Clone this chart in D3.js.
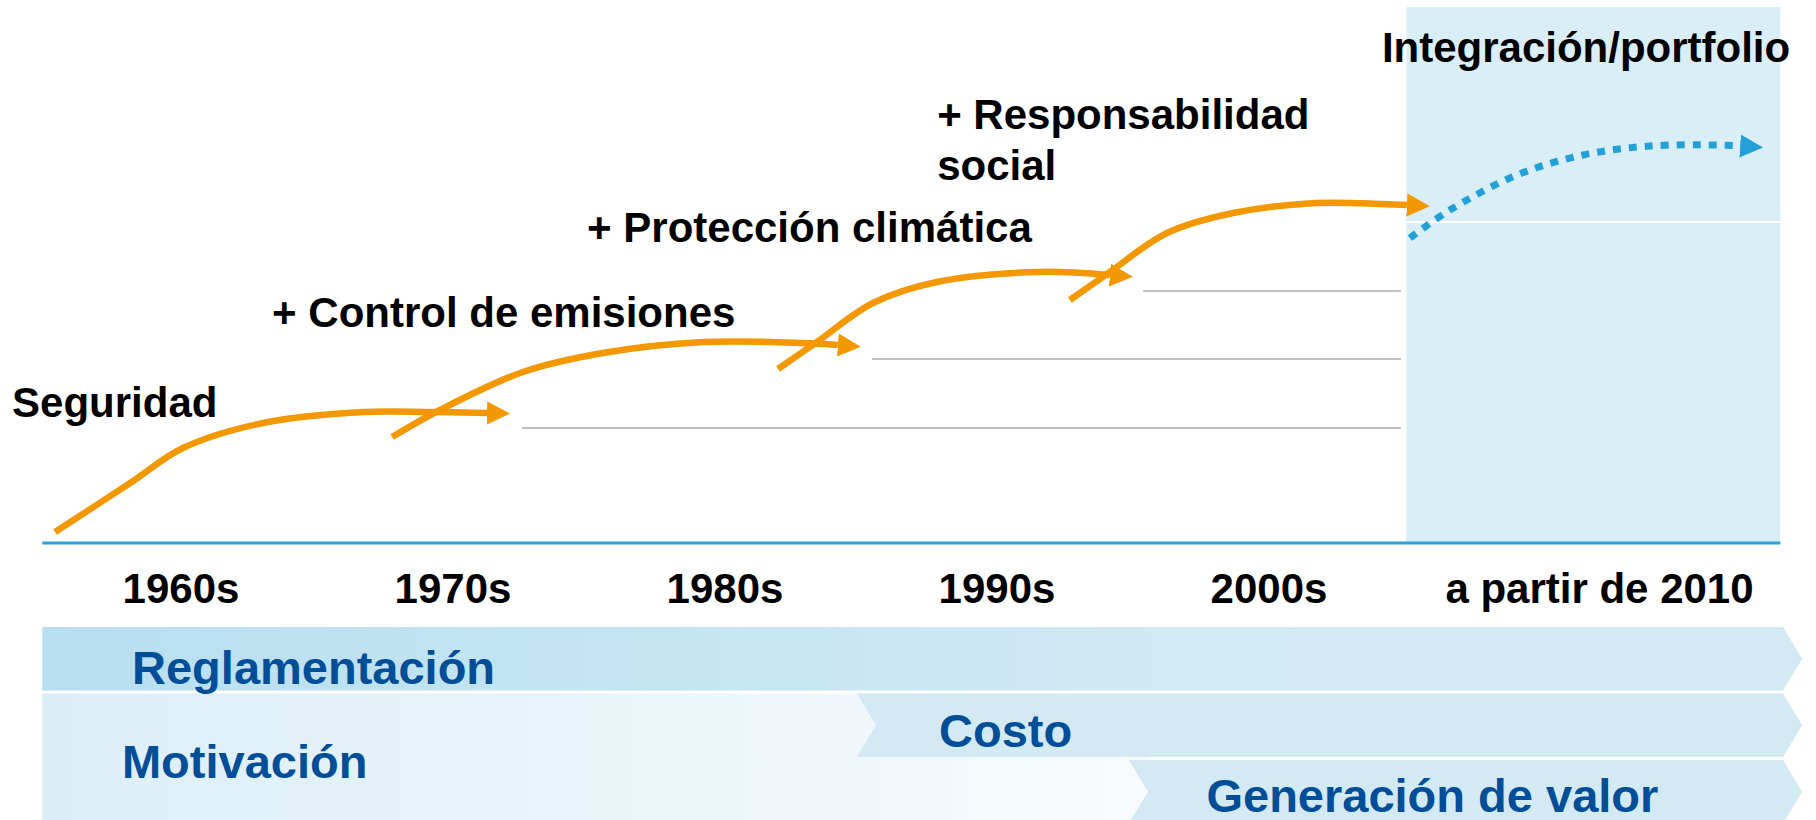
<!DOCTYPE html>
<html>
<head>
<meta charset="utf-8">
<script src="https://d3js.org/d3.v7.min.js"></script>
<style>
  body { margin: 0; background: #fff; }
  svg { display: block; font-family: "Liberation Sans", Arial, sans-serif; font-weight: bold; }
</style>
</head>
<body>
<div id="my_dataviz"></div>
<script>

// size of the picture
var width = 1816,
    height = 820

// periods along the time axis
var periodLabels = ["1960s", "1970s", "1980s", "1990s", "2000s", "a partir de 2010"]
var periodStarts = [1960, 1970, 1980, 1990, 2000, 2010]
var periodEnds   = [1970, 1980, 1990, 2000, 2010, 2024.3]

// topics reached along the way
var stepLabels = ["Seguridad", "+ Control de emisiones", "+ Protección climática", "+ Responsabilidad\nsocial", "Integración/portfolio"]

// the S-curves (x = year, y = level). last one is the outlook after 2010
var curve1Years  = [1960.37, 1963.13, 1965.07, 1968.01, 1971.69, 1974.15, 1976.25]
var curve1Levels = [2.2, 12.0, 19.0, 24.0, 26.2, 26.2, 26.0]
var curve2Years  = [1972.76, 1974.52, 1977.57, 1980.51, 1984.19, 1987.87, 1989.15]
var curve2Levels = [21.2, 26.6, 34.2, 38.0, 40.2, 40.0, 39.6]
var curve3Years  = [1986.95, 1988.38, 1990.44, 1992.79, 1996.47, 1999.15]
var curve3Levels = [34.8, 40.2, 48.0, 52.2, 54.2, 53.6]
var curve4Years  = [1997.68, 1999.15, 2001.25, 2003.68, 2006.76, 2009.19, 2010.07]
var curve4Levels = [48.6, 54.2, 62.0, 66.0, 68.0, 67.8, 67.6]
var outlookYears  = [2010.18, 2011.65, 2014.12, 2016.54, 2019.01, 2021.47, 2022.32]
var outlookLevels = [61.0, 66.6, 73.6, 77.6, 79.4, 79.6, 79.4]

// levels already reached (grey guide lines) and when they start
var reachedLevels = [23.0, 36.8, 50.4]
var reachedFrom   = [1977.54, 1990.4, 2000.37]
var reachedTo     = 2009.85

// motivation bands underneath
var bandNames  = ["Reglamentación", "Costo", "Generación de valor"]
var bandStarts = [1959.9, 1989.85, 1999.85]
var bandEnd    = 2023.9

// scales
var x = d3.scaleLinear().domain([1960, 2010]).range([45, 1405])
var y = d3.scaleLinear().domain([0, 100]).range([543, 43])
var row = d3.scaleBand().domain(bandNames).range([627, 823.5]).paddingInner(0.045)

var svg = d3.select("#my_dataviz")
  .append("svg")
    .attr("width", width)
    .attr("height", height)

var defs = svg.append("defs")

// gradients for the bands
var g1 = defs.append("linearGradient").attr("id", "gradRegl")
  .attr("gradientUnits", "userSpaceOnUse").attr("x1", 43).attr("x2", 1300).attr("y1", 0).attr("y2", 0)
g1.append("stop").attr("offset", 0).attr("stop-color", "#b8dff0")
g1.append("stop").attr("offset", 1).attr("stop-color", "#d3eaf5")

var g2 = defs.append("linearGradient").attr("id", "gradMotiv")
  .attr("gradientUnits", "userSpaceOnUse").attr("x1", 43).attr("x2", 1150).attr("y1", 0).attr("y2", 0)
g2.append("stop").attr("offset", 0).attr("stop-color", "#dbeef7")
g2.append("stop").attr("offset", 1).attr("stop-color", "#f8fbfd")

// arrow heads
function addMarker(id, color) {
  defs.append("marker")
      .attr("id", id)
      .attr("markerUnits", "userSpaceOnUse")
      .attr("viewBox", "0 -12 24 24")
      .attr("markerWidth", 24)
      .attr("markerHeight", 24)
      .attr("refX", 0)
      .attr("refY", 0)
      .attr("orient", "auto")
    .append("path")
      .attr("d", "M0,-11.5L23,0L0,11.5Z")
      .attr("fill", color)
}
addMarker("arrowOrange", "#f39800")
addMarker("arrowBlue", "#22a0d7")

// shaded area for the future
svg.append("rect")
  .attr("x", x(2010.05))
  .attr("y", 7)
  .attr("width", x(2023.8) - x(2010.05))
  .attr("height", y(0) - 7)
  .attr("fill", "#daeef8")

// white line in the shaded area (next level)
svg.append("line")
  .attr("x1", x(2010.05)).attr("x2", x(2023.8))
  .attr("y1", y(64.2)).attr("y2", y(64.2))
  .attr("stroke", "#fff").attr("stroke-width", 2)

// grey guide lines
svg.selectAll(".guide")
  .data(reachedLevels)
  .enter()
  .append("line")
    .attr("class", "guide")
    .attr("x1", function(d, i) { return x(reachedFrom[i]) })
    .attr("x2", x(reachedTo))
    .attr("y1", function(d) { return y(d) })
    .attr("y2", function(d) { return y(d) })
    .attr("stroke", "#c0c0c0")
    .attr("stroke-width", 2)

// base line
svg.append("line")
  .attr("x1", x(1959.9)).attr("x2", x(2023.8))
  .attr("y1", y(0)).attr("y2", y(0))
  .attr("stroke", "#29a3dc")
  .attr("stroke-width", 3)

// curves
var line = d3.line()
  .x(function(d) { return x(d[0]) })
  .y(function(d) { return y(d[1]) })
  .curve(d3.curveCatmullRom.alpha(0.5))

var curves = [
  d3.zip(curve1Years, curve1Levels),
  d3.zip(curve2Years, curve2Levels),
  d3.zip(curve3Years, curve3Levels),
  d3.zip(curve4Years, curve4Levels)
]

svg.selectAll(".curve")
  .data(curves)
  .enter()
  .append("path")
    .attr("class", "curve")
    .attr("d", line)
    .attr("fill", "none")
    .attr("stroke", "#f39800")
    .attr("stroke-width", 6.5)
    .attr("marker-end", "url(#arrowOrange)")

svg.append("path")
  .datum(d3.zip(outlookYears, outlookLevels))
  .attr("d", line)
  .attr("fill", "none")
  .attr("stroke", "#22a0d7")
  .attr("stroke-width", 7)
  .attr("stroke-dasharray", "8,8")
  .attr("marker-end", "url(#arrowBlue)")

// topic labels (anchor = year, level)
var stepAnchors = [[1958.79, 25.2], [1968.35, 43.2], [1979.93, 60.2], [1992.8, 82.9], [2009.15, 96.2]]

svg.selectAll(".step")
  .data(stepLabels)
  .enter()
  .append("text")
    .attr("class", "step")
    .attr("x", function(d, i) { return x(stepAnchors[i][0]) })
    .attr("y", function(d, i) { return y(stepAnchors[i][1]) })
    .style("font-size", "42px")
    .attr("fill", "#000")
    .each(function(d, i) {
      var t = d3.select(this)
      var px = x(stepAnchors[i][0])
      d.split("\n").forEach(function(s, k) {
        t.append("tspan").attr("x", px).attr("dy", k == 0 ? 0 : 51).text(s)
      })
    })

// period labels
svg.selectAll(".period")
  .data(periodLabels)
  .enter()
  .append("text")
    .attr("class", "period")
    .attr("x", function(d, i) { return x((periodStarts[i] + periodEnds[i]) / 2) })
    .attr("y", 603)
    .attr("text-anchor", "middle")
    .style("font-size", "42px")
    .attr("fill", "#000")
    .text(function(d) { return d })

// motivation bands
var depth = 19

// motivation background (below the first band)
svg.append("rect")
  .attr("x", x(1959.9))
  .attr("y", row("Costo"))
  .attr("width", x(bandStarts[2]) + depth - x(1959.9))
  .attr("height", height - row("Costo"))
  .attr("fill", "url(#gradMotiv)")

function chevron(i) {
  var x0 = x(bandStarts[i]), x1 = x(bandEnd)
  var y0 = row(bandNames[i]), y1 = y0 + row.bandwidth(), ym = (y0 + y1) / 2
  var p = "M" + x0 + "," + y0 + "L" + x1 + "," + y0 + "L" + (x1 + depth) + "," + ym +
          "L" + x1 + "," + y1 + "L" + x0 + "," + y1
  if (i > 0) p += "L" + (x0 + depth) + "," + ym
  return p + "Z"
}

svg.selectAll(".band")
  .data(bandNames)
  .enter()
  .append("path")
    .attr("class", "band")
    .attr("d", function(d, i) { return chevron(i) })
    .attr("fill", function(d, i) { return i == 0 ? "url(#gradRegl)" : "#d3eaf5" })

// band labels
var bandLabelAnchors = [[1963.2, 684], [1992.87, 747], [2002.7, 812]]
svg.selectAll(".bandLabel")
  .data(bandNames)
  .enter()
  .append("text")
    .attr("class", "bandLabel")
    .attr("x", function(d, i) { return x(bandLabelAnchors[i][0]) })
    .attr("y", function(d, i) { return bandLabelAnchors[i][1] })
    .style("font-size", "47px")
    .attr("fill", "#004e98")
    .text(function(d) { return d })

svg.append("text")
  .attr("x", x(1962.83))
  .attr("y", 778)
  .style("font-size", "47px")
  .attr("fill", "#004e98")
  .text("Motivación")

</script>
</body>
</html>
